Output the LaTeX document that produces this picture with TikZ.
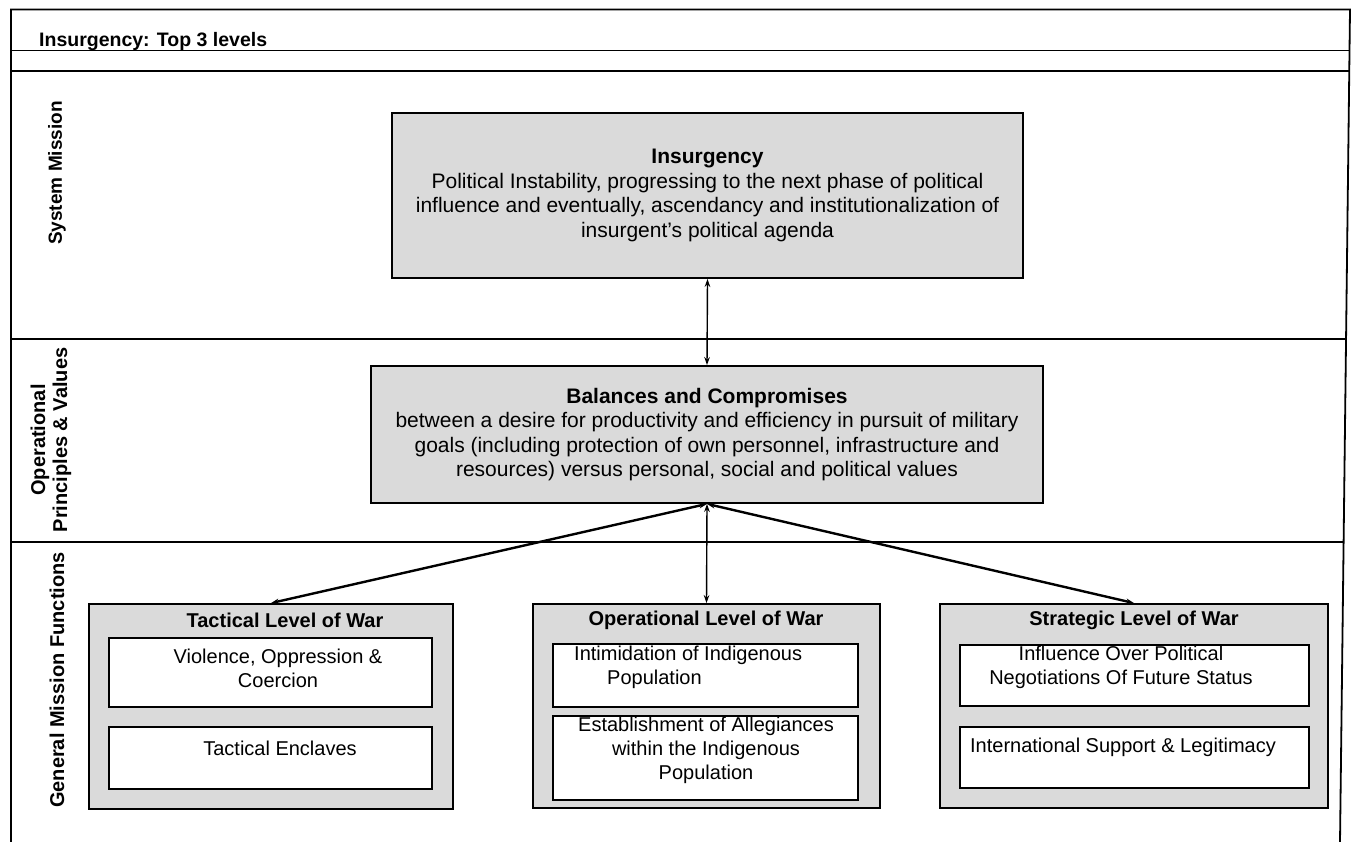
\documentclass[tikz,border=0pt]{standalone}
\usepackage{fontspec}
\setmainfont{Liberation Sans}
\usetikzlibrary{arrows.meta}
\definecolor{boxgray}{RGB}{218,218,218}
\begin{document}
\begin{tikzpicture}[x=1pt,y=-1pt,
  frame/.style={line width=1.8pt},
  rowline/.style={line width=1.4pt},
  graybox/.style={draw, line width=1.8pt, fill=boxgray, inner sep=0pt},
  whitebox/.style={draw, line width=1.8pt, fill=white, inner sep=0pt},
  bodytext/.style={font=\fontsize{21}{24.5}\selectfont, align=center},
  smalltext/.style={font=\fontsize{20}{24}\selectfont, align=center, inner sep=0pt},
  headtext/.style={font=\fontsize{20}{23}\selectfont\bfseries, inner sep=0pt},
  sidelabel/.style={font=\fontsize{19.5}{22}\selectfont\bfseries, rotate=90, align=center, inner sep=0pt},
  conn/.style={<->, >={Stealth[length=8pt,width=5.5pt]}, line width=1.4pt},
  thickconn/.style={conn, line width=2.4pt}]
\useasboundingbox (0,0) rectangle (1352,842);

% outer frame and row rules
\draw[frame] (11,842) -- (11,9.5) -- (1350,9.5) -- (1340,842);
\draw[rowline] (11,50.5) -- (1350,50.5);
\draw[rowline] (11,71) -- (1350,71);
\draw[rowline] (11,339) -- (1346,339);
\draw[rowline] (11,542) -- (1343.5,542);

% heading
\node[headtext, anchor=base west, font=\fontsize{19.5}{23}\selectfont\bfseries] (title) at (39,47) {Insurgency: Top 3 levels};

% row labels
\node[sidelabel, font=\fontsize{19}{21}\selectfont\bfseries] (lsys) at (57,173) {System Mission};
\node[sidelabel, font=\fontsize{20}{22}\selectfont\bfseries] (lops) at (51,440) {Operational\\Principles \& Values};
\node[sidelabel, font=\fontsize{20}{22}\selectfont\bfseries] (lgen) at (57,680) {General Mission Functions};

% system mission
\node[graybox, bodytext, minimum width=631pt, minimum height=165pt] (ins) at (707.5,195.5)
  {\textbf{Insurgency}\\Political Instability, progressing to the next phase of political\\influence and eventually, ascendancy and institutionalization of\\insurgent's political agenda};

% operational principles
\node[graybox, bodytext, minimum width=672pt, minimum height=137pt] (bal) at (707,434.5)
  {\textbf{Balances and Compromises}\\between a desire for productivity and efficiency in pursuit of military\\goals (including protection of own personnel, infrastructure and\\resources) versus personal, social and political values};

% general mission functions: outer panels
\node[graybox, minimum width=364pt, minimum height=205pt] (tac) at (271,706.5) {};
\node[graybox, minimum width=347pt, minimum height=204pt] (op) at (706.5,706) {};
\node[graybox, minimum width=388pt, minimum height=204pt] (str) at (1134,706) {};

\node[headtext] (tachead) at (285,620) {Tactical Level of War};
\node[headtext] (ophead) at (706,620) {Operational Level of War};
\node[headtext] (strhead) at (1134,620) {Strategic Level of War};

% inner function boxes
\node[whitebox, minimum width=323pt, minimum height=69pt] (tac1) at (270.5,672.5) {};
\node[whitebox, minimum width=323pt, minimum height=62pt] (tac2) at (270.5,758) {};
\node[whitebox, minimum width=305pt, minimum height=63pt] (op1) at (705.5,675.5) {};
\node[whitebox, minimum width=305pt, minimum height=84pt] (op2) at (705.5,758) {};
\node[whitebox, minimum width=349pt, minimum height=61pt] (str1) at (1134.5,675.5) {};
\node[whitebox, minimum width=349pt, minimum height=61pt] (str2) at (1134.5,757.5) {};

\node[smalltext] (tac1t) at (278,668.5) {Violence, Oppression \&\\Coercion};
\node[smalltext] (tac2t) at (280,748) {Tactical Enclaves};
\node[smalltext, align=left, anchor=north west] (op1t) at (574,646) {Intimidation of Indigenous\\\hspace*{33pt}Population};
\node[smalltext] (op2t) at (706,750) {Establishment of Allegiances\\within the Indigenous\\Population};
\node[smalltext] (str1t) at (1121,667.5) {Influence Over Political\\Negotiations Of Future Status};
\node[smalltext] (str2t) at (1123,747) {International Support \& Legitimacy};

% connectors
\draw[conn] (ins.south) -- (bal.north);
\draw[thickconn] (bal.south) -- (tac.north);
\draw[conn] (bal.south) -- (op.north);
\draw[thickconn] (bal.south) -- (str.north);
\end{tikzpicture}
\end{document}
